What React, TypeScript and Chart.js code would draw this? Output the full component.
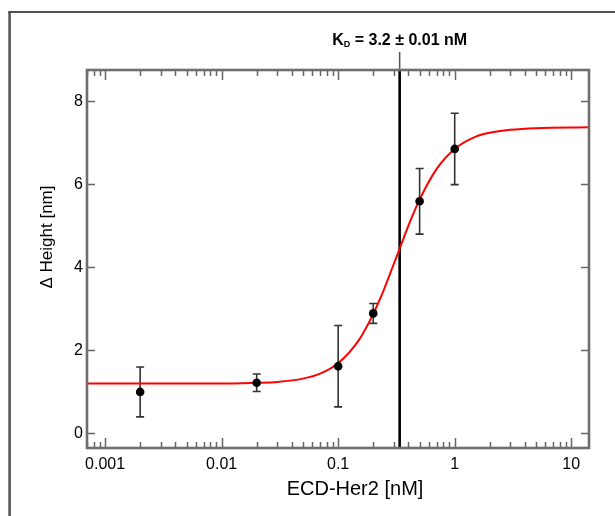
import React, { useEffect, useRef } from "react";
import { Chart, registerables } from "chart.js";

Chart.register(...registerables);

// measured points
const concentrations = [0.002, 0.02, 0.1, 0.2, 0.5, 1];
const heights = [1.0, 1.22, 1.62, 2.89, 5.59, 6.85];
const errors = [0.6, 0.21, 0.98, 0.24, 0.79, 0.86];

// fitted curve
const fitX = [0.0007, 0.01, 0.02, 0.03, 0.05, 0.07, 0.1, 0.15, 0.2, 0.25, 0.3, 0.35, 0.4, 0.5, 0.7, 1, 1.5, 2, 3, 5, 14.2];
const fitY = [1.2, 1.2, 1.22, 1.24, 1.32, 1.44, 1.69, 2.24, 2.88, 3.5, 4.08, 4.57, 5.0, 5.63, 6.37, 6.85, 7.14, 7.24, 7.31, 7.35, 7.37];

// ticks
const xTickValues = [0.001, 0.01, 0.1, 1, 10];
const xTickLabels = ["0.001", "0.01", "0.1", "1", "10"];
const yTickValues = [0, 2, 4, 6, 8];
const yTickLabels = ["0", "2", "4", "6", "8"];

const xTitle = "ECD-Her2 [nM]";
const yTitle = "\u0394 Height [nm]";
const kdValue = 0.337;
const kdText = " = 3.2 \u00b1 0.01 nM";

const X_MIN = 0.0007;
const X_MAX = 14.2;
const Y_MIN = -0.35;
const Y_MAX = 8.75;

const FONT = "'Liberation Sans', Arial, Helvetica, sans-serif";

const decorPlugin = {
  id: "decor",
  beforeDraw(chart: any) {
    const ctx = chart.ctx;
    ctx.save();
    ctx.fillStyle = "#ffffff";
    ctx.fillRect(0, 0, chart.width, chart.height);
    ctx.strokeStyle = "#5e5e5e";
    ctx.lineWidth = 2.7;
    ctx.beginPath();
    ctx.moveTo(9.6, 11);
    ctx.lineTo(9.6, chart.height);
    ctx.stroke();
    ctx.lineWidth = 2;
    ctx.strokeStyle = "#505050";
    ctx.beginPath();
    ctx.moveTo(8.3, 12);
    ctx.lineTo(chart.width, 12);
    ctx.stroke();
    ctx.restore();
  },
  beforeDatasetsDraw(chart: any) {
    const ctx = chart.ctx;
    const xs = chart.scales.x;
    const ys = chart.scales.y;
    const area = chart.chartArea;
    ctx.save();
    // KD line
    const lx = xs.getPixelForValue(kdValue);
    ctx.strokeStyle = "#000";
    ctx.lineWidth = 2.6;
    ctx.beginPath();
    ctx.moveTo(lx, area.bottom);
    ctx.lineTo(lx, area.top);
    ctx.stroke();
    ctx.strokeStyle = "#555";
    ctx.lineWidth = 1.5;
    ctx.beginPath();
    ctx.moveTo(lx, area.top);
    ctx.lineTo(lx, 52);
    ctx.stroke();
    // error bars
    ctx.strokeStyle = "#333";
    ctx.lineWidth = 1.6;
    for (let i = 0; i < concentrations.length; i++) {
      const px = xs.getPixelForValue(concentrations[i]);
      const top = ys.getPixelForValue(heights[i] + errors[i]);
      const bot = ys.getPixelForValue(heights[i] - errors[i]);
      ctx.beginPath();
      ctx.moveTo(px, top);
      ctx.lineTo(px, bot);
      ctx.moveTo(px - 4, top);
      ctx.lineTo(px + 4, top);
      ctx.moveTo(px - 4, bot);
      ctx.lineTo(px + 4, bot);
      ctx.stroke();
    }
    ctx.restore();
  },
  afterDraw(chart: any) {
    const ctx = chart.ctx;
    const xs = chart.scales.x;
    const ys = chart.scales.y;
    const a = chart.chartArea;
    ctx.save();
    // ticks
    ctx.strokeStyle = "#666";
    ctx.lineWidth = 1.5;
    ctx.beginPath();
    for (let e = -4; e <= 1; e++) {
      for (let k = 1; k <= 9; k++) {
        const v = k * Math.pow(10, e);
        if (v < X_MIN * 0.999 || v > X_MAX) continue;
        const px = Math.round(xs.getPixelForValue(v)) + 0.5;
        const len = k === 1 ? 10 : 6;
        ctx.moveTo(px, a.bottom);
        ctx.lineTo(px, a.bottom - len);
        ctx.moveTo(px, a.top);
        ctx.lineTo(px, a.top + len);
      }
    }
    for (const v of yTickValues) {
      const py = Math.round(ys.getPixelForValue(v)) + 0.5;
      ctx.moveTo(a.left, py);
      ctx.lineTo(a.left + 8, py);
      ctx.moveTo(a.right, py);
      ctx.lineTo(a.right - 8, py);
    }
    ctx.stroke();
    // box
    ctx.strokeStyle = "#6e6e6e";
    ctx.lineWidth = 2.6;
    ctx.strokeRect(a.left, a.top, a.right - a.left, a.bottom - a.top);

    // axis titles
    ctx.fillStyle = "#000";
    ctx.textAlign = "center";
    ctx.textBaseline = "middle";
    ctx.font = `20px ${FONT}`;
    ctx.fillText(xTitle, 355, 489);
    ctx.save();
    ctx.translate(47, 237);
    ctx.rotate(-Math.PI / 2);
    ctx.font = `17px ${FONT}`;
    ctx.fillText(yTitle, 0, 0);
    ctx.restore();

    // KD label
    const lx = xs.getPixelForValue(kdValue);
    ctx.textAlign = "left";
    ctx.textBaseline = "alphabetic";
    ctx.font = `bold 16px ${FONT}`;
    const wK = ctx.measureText("K").width;
    const wRest = ctx.measureText(kdText).width;
    ctx.font = `bold 9px ${FONT}`;
    const wD = ctx.measureText("D").width;
    const total = wK + wD + wRest;
    const x0 = lx - total / 2;
    const base = 45;
    ctx.font = `bold 16px ${FONT}`;
    ctx.fillText("K", x0, base);
    ctx.font = `bold 9px ${FONT}`;
    ctx.fillText("D", x0 + wK, base + 2);
    ctx.font = `bold 16px ${FONT}`;
    ctx.fillText(kdText, x0 + wK + wD, base);
    ctx.restore();
  },
};

export default function App() {
  const ref = useRef<HTMLCanvasElement | null>(null);
  useEffect(() => {
    if (!ref.current) return;
    const chart = new Chart(ref.current, {
      type: "scatter",
      data: {
        datasets: [
          {
            label: "fit",
            data: fitX.map((x, i) => ({ x, y: fitY[i] })),
            showLine: true,
            borderColor: "#ff0000",
            borderWidth: 2,
            pointRadius: 0,
            cubicInterpolationMode: "monotone",
            order: 2,
          },
          {
            label: "data",
            data: concentrations.map((x, i) => ({ x, y: heights[i] })),
            pointRadius: 4.3,
            pointBackgroundColor: "#000",
            pointBorderColor: "#000",
            borderWidth: 0,
            order: 1,
          },
        ],
      } as any,
      options: {
        animation: false,
        responsive: false,
        maintainAspectRatio: false,
        layout: { padding: { left: 20, right: 26, top: 70, bottom: 0 } },
        plugins: { legend: { display: false }, tooltip: { enabled: false } },
        scales: {
          x: {
            type: "logarithmic",
            position: "bottom",
            min: X_MIN,
            max: X_MAX,
            grid: { display: false, drawTicks: false, tickLength: 0 },
            border: { display: false },
            afterBuildTicks: (s: any) => {
              s.ticks = xTickValues.map((v) => ({ value: v }));
            },
            afterFit: (s: any) => {
              s.height = 68;
            },
            ticks: {
              autoSkip: false,
              maxRotation: 0,
              padding: 7,
              color: "#000",
              font: { family: FONT, size: 16 },
              callback: (_v: any, i: number) => xTickLabels[i],
            },
            title: { display: false },
          },
          y: {
            type: "linear",
            min: Y_MIN,
            max: Y_MAX,
            grid: { display: false, drawTicks: false, tickLength: 0 },
            border: { display: false },
            afterBuildTicks: (s: any) => {
              s.ticks = yTickValues.map((v) => ({ value: v }));
            },
            afterFit: (s: any) => {
              s.width = 67;
            },
            ticks: {
              padding: 4,
              color: "#000",
              font: { family: FONT, size: 16 },
              callback: (_v: any, i: number) => yTickLabels[i],
            },
            title: { display: false },
          },
        },
      } as any,
      plugins: [decorPlugin],
    });
    return () => chart.destroy();
  }, []);
  return (
    <div style={{ position: "fixed", left: 0, top: 0, width: 615, height: 516, background: "#fff" }}>
      <canvas ref={ref} width={615} height={516} style={{ display: "block", width: 615, height: 516 }} />
    </div>
  );
}
